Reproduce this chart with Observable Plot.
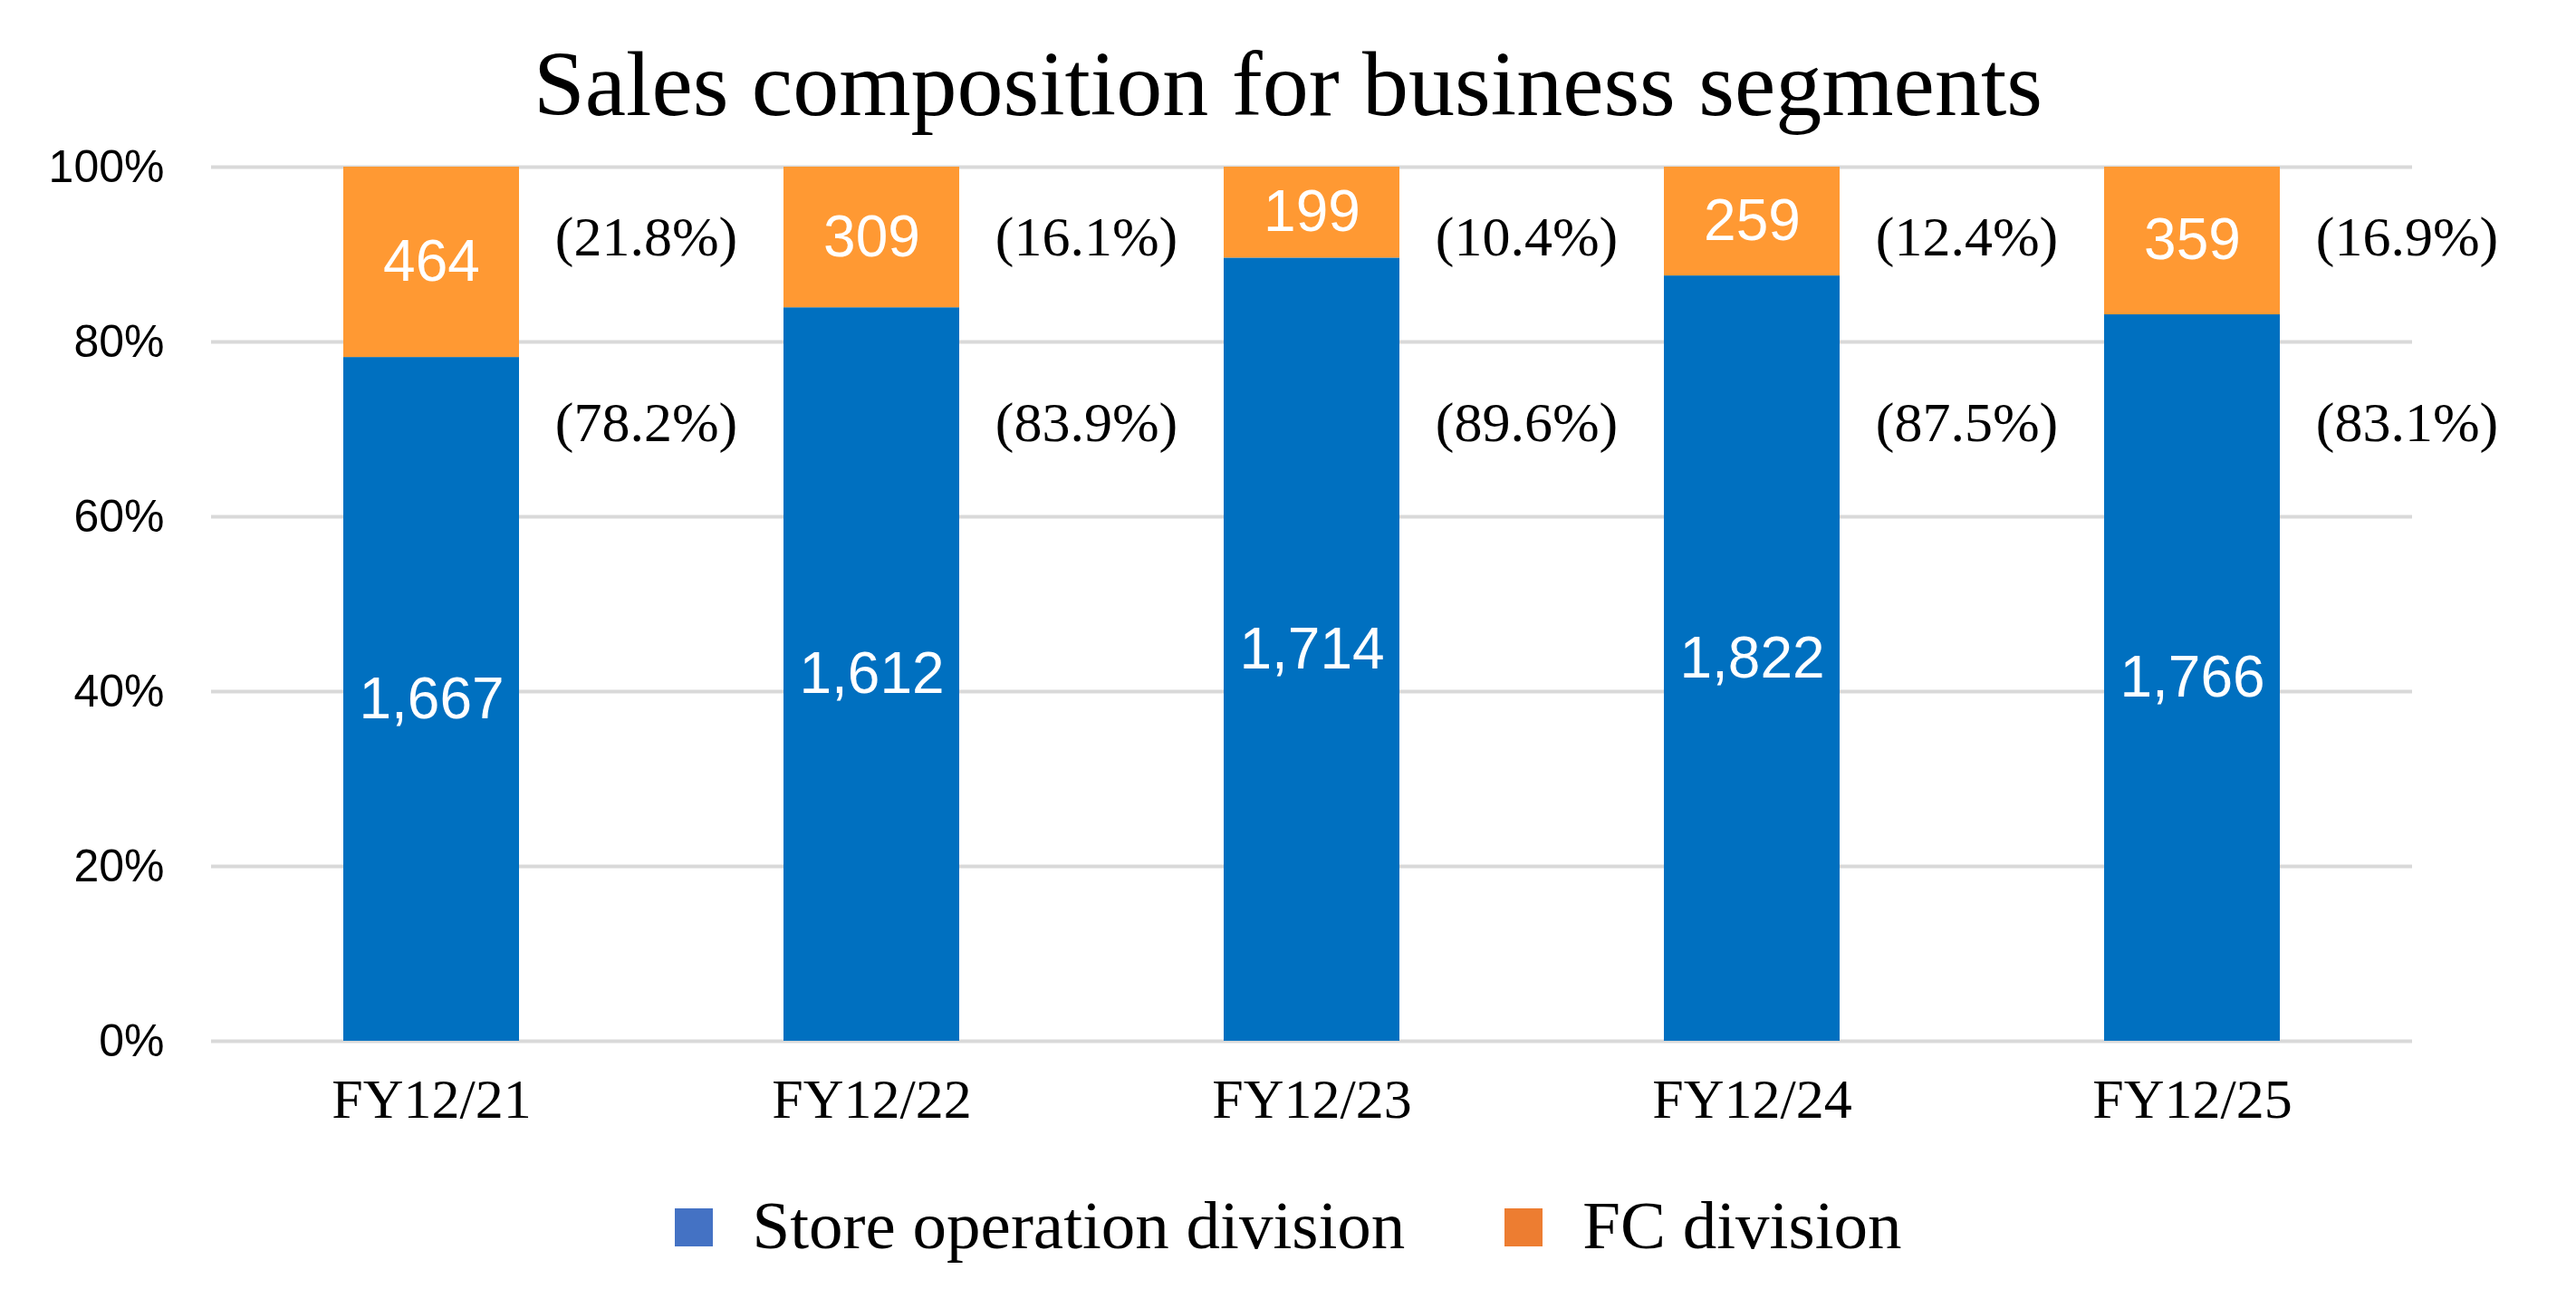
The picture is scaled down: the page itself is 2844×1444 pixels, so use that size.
<!DOCTYPE html>
<html><head><meta charset="utf-8">
<script src="https://cdn.jsdelivr.net/npm/d3@7"></script>
<script src="https://cdn.jsdelivr.net/npm/@observablehq/plot@0.6"></script>
<style>
body{margin:0;background:#fff;}
#wrap{position:relative;width:2844px;height:1444px;}
#title{position:absolute;top:34px;left:0;width:2844px;text-align:center;font-family:"Liberation Serif",serif;font-size:102px;color:#000;}
#legend{position:absolute;top:1310px;left:0;width:2844px;display:flex;justify-content:center;gap:110px;font-family:"Liberation Serif",serif;font-size:75px;}
#legend span.sw{display:inline-block;width:42px;height:42px;margin-right:44px;vertical-align:middle;position:relative;top:-6px}
</style></head><body>
<div id="wrap">
<div id="title">Sales composition for business segments</div>
<div id="chart"></div>
<div id="legend"><div><span class="sw" style="background:#4472C4"></span>Store operation division</div><div><span class="sw" style="background:#ED7D31"></span>FC division</div></div>
</div>
<script>
const years = ["FY12/21","FY12/22","FY12/23","FY12/24","FY12/25"];
const storeValues = [1667,1612,1714,1822,1766];
const fcValues = [464,309,199,259,359];
const storePctLabels = ["(78.2%)","(83.9%)","(89.6%)","(87.5%)","(83.1%)"];
const fcPctLabels = ["(21.8%)","(16.1%)","(10.4%)","(12.4%)","(16.9%)"];
const yTicks = [0,20,40,60,80,100];

const rows = [];
years.forEach((y,i)=>{
  const tot = storeValues[i]+fcValues[i];
  const s = storeValues[i]/tot*100, f = fcValues[i]/tot*100;
  rows.push({year:y, seg:"store", y1:0, y2:s, val:storeValues[i], pct:storePctLabels[i], py:70.7});
  rows.push({year:y, seg:"fc", y1:s, y2:100, val:fcValues[i], pct:fcPctLabels[i], py:92});
});
const fmt = d3.format(",");
const chart = Plot.plot({
  width:2844, height:1444,
  marginTop:184, marginBottom:295, marginLeft:233, marginRight:181,
  x:{domain:years, paddingInner:0.6, paddingOuter:0.3, label:null, tickSize:0, tickPadding:40},
  y:{domain:[0,100], ticks:yTicks, tickFormat:d=>d+"%", label:null, tickSize:0, tickPadding:52},
  color:{domain:["store","fc"], range:["#0070C0","#FF9933"]},
  style:{fontSize:"62px", fontFamily:"Liberation Serif, serif", color:"#000"},
  marks:[
    Plot.ruleY(yTicks,{stroke:"#d9d9d9", strokeWidth:4}),
    Plot.rectY(rows,{x:"year", y1:"y1", y2:"y2", fill:"seg"}),
    Plot.text(rows,{x:"year", y:d=>(d.y1+d.y2)/2, text:d=>fmt(d.val), fill:"white", fontSize:64, fontFamily:"Liberation Sans Narrow, Liberation Sans, sans-serif"}),
    Plot.text(rows,{x:"year", y:"py", text:"pct", dx:237, fontSize:62, fontFamily:"Liberation Serif, serif", fill:"#000"})
  ]
});
chart.querySelectorAll("[aria-label='y-axis tick label'] text").forEach(t=>{t.style.fontFamily="Liberation Sans Narrow, Liberation Sans, sans-serif";t.style.fontSize="50px";});
document.getElementById("chart").appendChild(chart);
</script>
</body></html>
